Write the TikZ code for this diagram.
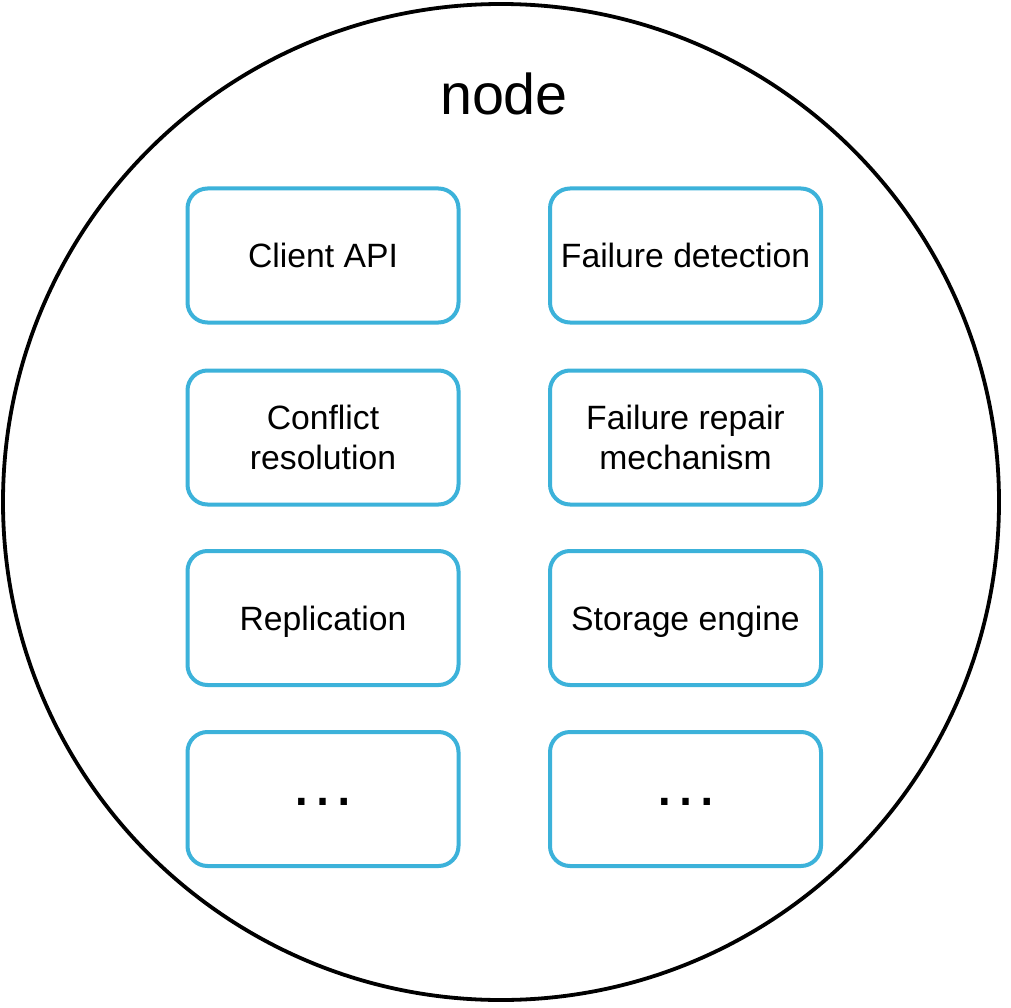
\documentclass[tikz,border=0pt]{standalone}
\usepackage{fontspec}
\setmainfont{Liberation Sans}
\definecolor{boxblue}{HTML}{3CB2DA}
\begin{document}
\begin{tikzpicture}[x=1pt,y=-1pt,
  box/.style={draw=boxblue, line width=4pt, rounded corners=20pt,
    minimum width=271pt, minimum height=134pt, inner sep=0pt,
    align=center, text=black, font=\fontsize{33.7}{40.4}\selectfont},
  oneline/.style={box, text height=24.6pt, text depth=0pt},
  dots/.style={box, font=\fontsize{67}{70}\selectfont, text height=12pt, text depth=0pt}
]
\useasboundingbox (0,0) rectangle (1011,1008);
\fill[white] (0,0) rectangle (1011,1008);
\node[circle, draw=black, line width=3.8pt, minimum size=996pt, inner sep=0pt] (outer) at (501,502) {};
\node[anchor=base, font=\fontsize{57.5}{69}\selectfont] (title) at (504,115) {node};
\node[oneline] (api) at (323,255.5) {Client API};
\node[oneline] (fd) at (685.5,255.5) {Failure detection};
\node[box] (cr) at (323,437.5) {Conflict\\resolution};
\node[box] (frm) at (685.5,437.5) {Failure repair\\mechanism};
\node[oneline] (rep) at (323,618) {Replication};
\node[oneline] (se) at (685.5,618) {Storage engine};
\node[dots] (m1) at (323,799) {…};
\node[dots] (m2) at (685.5,799) {…};
\end{tikzpicture}
\end{document}
